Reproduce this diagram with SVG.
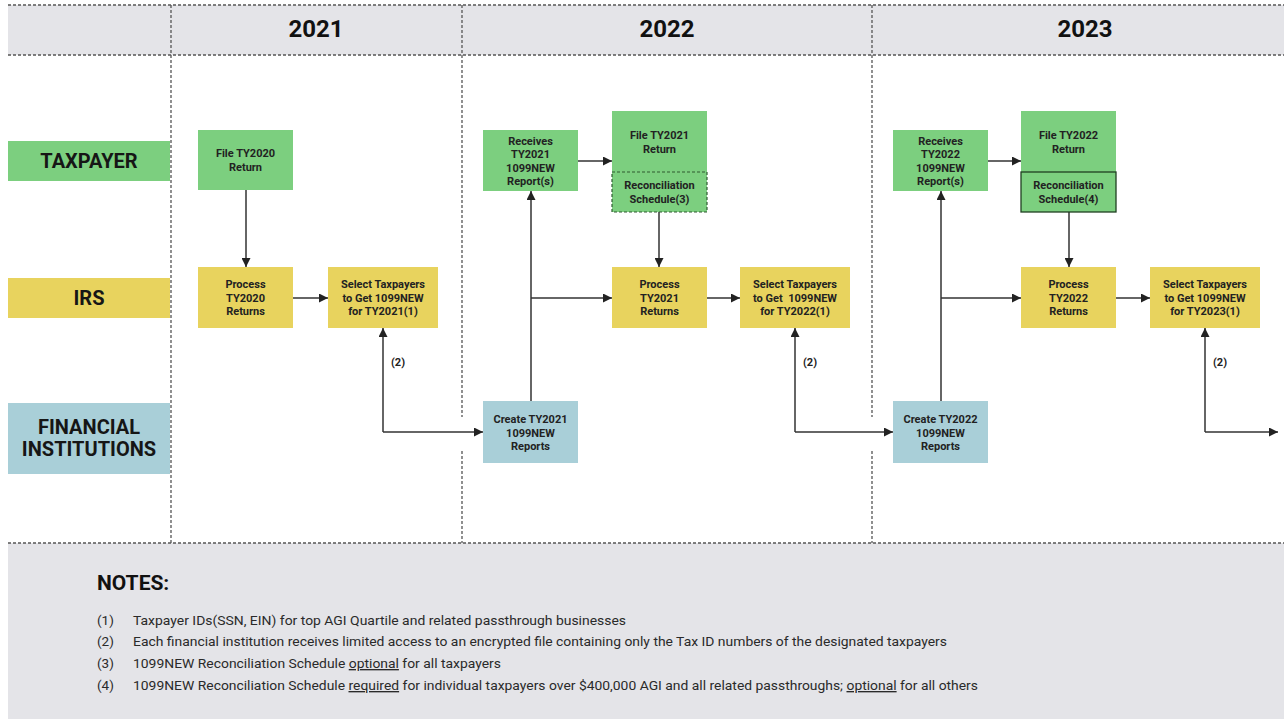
<svg xmlns="http://www.w3.org/2000/svg" width="1284" height="719" viewBox="0 0 1284 719">
<defs>
<style>
.band{fill:#e4e4e8}
.dot{stroke:#555;stroke-width:1.3;stroke-dasharray:3 2;fill:none}
.green{fill:#7ccf7f}
.yellow{fill:#e8d35e}
.blue{fill:#a9cfd8}
.yr{font-family:Roboto,"Liberation Sans",sans-serif;font-weight:700;font-size:24px;fill:#111;text-anchor:middle}
.lane{font-family:Roboto,"Liberation Sans",sans-serif;font-weight:700;font-size:20px;fill:#161616;text-anchor:middle}
.nt{font-family:Roboto,"Liberation Sans",sans-serif;font-weight:700;font-size:11px;fill:#222;text-anchor:middle}
.conn{stroke:#333;stroke-width:1.5;fill:none;marker-end:url(#ah)}
.lbl{font-family:Roboto,"Liberation Sans",sans-serif;font-weight:700;font-size:11px;fill:#222;text-anchor:middle}
.notesh{font-family:Roboto,"Liberation Sans",sans-serif;font-weight:700;font-size:21px;fill:#111}
.note{font-family:Roboto,"Liberation Sans",sans-serif;font-size:13.5px;fill:#2a2a2a}
.recon3{fill:#7ccf7f;stroke:#2e5a30;stroke-width:1.2;stroke-dasharray:3 2}
.recon4{fill:#7ccf7f;stroke:#1f3f21;stroke-width:1.3}
</style>
<marker id="ah" viewBox="0 0 10 10" refX="10" refY="5" markerWidth="9" markerHeight="9" markerUnits="userSpaceOnUse" orient="auto">
<path d="M0,0 L10,5 L0,10 z" fill="#222"/>
</marker>
</defs>
<rect width="1284" height="719" fill="#ffffff"/>

<g id="header">
<rect class="band" x="8" y="5" width="1276" height="50"/>
<line class="dot" x1="8" y1="5" x2="1284" y2="5"/>
<line class="dot" x1="8" y1="55" x2="1284" y2="55"/>
<text class="yr" x="316" y="37">2021</text>
<text class="yr" x="667" y="37">2022</text>
<text class="yr" x="1085" y="37">2023</text>
</g>

<g id="notes-area">
<rect class="band" x="8" y="543" width="1276" height="176"/>
<line class="dot" x1="8" y1="543" x2="1284" y2="543"/>
</g>

<g id="dividers">
<line class="dot" x1="171" y1="5" x2="171" y2="543"/>
<line class="dot" x1="462" y1="5" x2="462" y2="417"/>
<line class="dot" x1="462" y1="451" x2="462" y2="543"/>
<line class="dot" x1="872" y1="5" x2="872" y2="417"/>
<line class="dot" x1="872" y1="451" x2="872" y2="543"/>
</g>

<g id="lane-taxpayer">
<rect class="green" x="8" y="141" width="162" height="40"/>
<text class="lane" x="89" y="168">TAXPAYER</text>
</g>
<g id="lane-irs">
<rect class="yellow" x="8" y="278" width="162" height="40"/>
<text class="lane" x="89" y="305">IRS</text>
</g>
<g id="lane-fi">
<rect class="blue" x="8" y="403" width="162" height="71"/>
<text class="lane" x="89" y="434">FINANCIAL</text>
<text class="lane" x="89" y="456">INSTITUTIONS</text>
</g>

<g id="connectors">
<path class="conn" d="M246,190 V267"/>
<path class="conn" d="M293,298 H328"/>
<path class="conn" d="M383,432 V328"/>
<path class="conn" d="M383,432 H483"/>

<path class="conn" d="M578,161 H612"/>
<path class="conn" d="M659,212 V267"/>
<path class="conn" d="M531,401 V191"/>
<path class="conn" d="M531,298 H612"/>
<path class="conn" d="M707,298 H740"/>
<path class="conn" d="M795,432 V328"/>
<path class="conn" d="M795,432 H893"/>

<path class="conn" d="M988,161 H1021"/>
<path class="conn" d="M1069,212 V267"/>
<path class="conn" d="M941,401 V191"/>
<path class="conn" d="M941,298 H1021"/>
<path class="conn" d="M1116,298 H1150"/>
<path class="conn" d="M1205,432 V328"/>
<path class="conn" d="M1205,432 H1278"/>

<text class="lbl" x="398" y="366">(2)</text>
<text class="lbl" x="810" y="366">(2)</text>
<text class="lbl" x="1220" y="366">(2)</text>
</g>

<g id="file-ty2020">
<rect class="green" x="198" y="130" width="95" height="60"/>
<text class="nt" x="245.5" y="157">File TY2020</text>
<text class="nt" x="245.5" y="171">Return</text>
</g>
<g id="process-ty2020">
<rect class="yellow" x="198" y="267" width="95" height="61"/>
<text class="nt" x="245.5" y="288">Process</text>
<text class="nt" x="245.5" y="301.5">TY2020</text>
<text class="nt" x="245.5" y="315">Returns</text>
</g>
<g id="select-ty2021">
<rect class="yellow" x="328" y="267" width="110" height="61"/>
<text class="nt" x="383" y="288">Select Taxpayers</text>
<text class="nt" x="383" y="301.5">to Get 1099NEW</text>
<text class="nt" x="383" y="315">for TY2021(1)</text>
</g>

<g id="receives-ty2021">
<rect class="green" x="483" y="130" width="95" height="61"/>
<text class="nt" x="530.5" y="145">Receives</text>
<text class="nt" x="530.5" y="158">TY2021</text>
<text class="nt" x="530.5" y="171.5">1099NEW</text>
<text class="nt" x="530.5" y="185">Report(s)</text>
</g>
<g id="file-ty2021">
<rect class="green" x="612" y="111" width="95" height="101"/>
<text class="nt" x="659.5" y="139">File TY2021</text>
<text class="nt" x="659.5" y="152.5">Return</text>
<rect class="recon3" x="612" y="172" width="95" height="40"/>
<text class="nt" x="659.5" y="189">Reconciliation</text>
<text class="nt" x="659.5" y="202.5">Schedule(3)</text>
</g>
<g id="process-ty2021">
<rect class="yellow" x="612" y="267" width="95" height="61"/>
<text class="nt" x="659.5" y="288">Process</text>
<text class="nt" x="659.5" y="301.5">TY2021</text>
<text class="nt" x="659.5" y="315">Returns</text>
</g>
<g id="select-ty2022">
<rect class="yellow" x="740" y="267" width="110" height="61"/>
<text class="nt" x="795" y="288">Select Taxpayers</text>
<text class="nt" x="795" y="301.5" xml:space="preserve">to Get  1099NEW</text>
<text class="nt" x="795" y="315">for TY2022(1)</text>
</g>
<g id="create-ty2021">
<rect class="blue" x="483" y="401" width="95" height="62"/>
<text class="nt" x="530.5" y="423">Create TY2021</text>
<text class="nt" x="530.5" y="436.5">1099NEW</text>
<text class="nt" x="530.5" y="450">Reports</text>
</g>

<g id="receives-ty2022">
<rect class="green" x="893" y="130" width="95" height="61"/>
<text class="nt" x="940.5" y="145">Receives</text>
<text class="nt" x="940.5" y="158">TY2022</text>
<text class="nt" x="940.5" y="171.5">1099NEW</text>
<text class="nt" x="940.5" y="185">Report(s)</text>
</g>
<g id="file-ty2022">
<rect class="green" x="1021" y="111" width="95" height="101"/>
<text class="nt" x="1068.5" y="139">File TY2022</text>
<text class="nt" x="1068.5" y="152.5">Return</text>
<rect class="recon4" x="1021" y="172" width="95" height="40"/>
<text class="nt" x="1068.5" y="189">Reconciliation</text>
<text class="nt" x="1068.5" y="202.5">Schedule(4)</text>
</g>
<g id="process-ty2022">
<rect class="yellow" x="1021" y="267" width="95" height="61"/>
<text class="nt" x="1068.5" y="288">Process</text>
<text class="nt" x="1068.5" y="301.5">TY2022</text>
<text class="nt" x="1068.5" y="315">Returns</text>
</g>
<g id="select-ty2023">
<rect class="yellow" x="1150" y="267" width="110" height="61"/>
<text class="nt" x="1205" y="288">Select Taxpayers</text>
<text class="nt" x="1205" y="301.5">to Get 1099NEW</text>
<text class="nt" x="1205" y="315">for TY2023(1)</text>
</g>
<g id="create-ty2022">
<rect class="blue" x="893" y="401" width="95" height="62"/>
<text class="nt" x="940.5" y="423">Create TY2022</text>
<text class="nt" x="940.5" y="436.5">1099NEW</text>
<text class="nt" x="940.5" y="450">Reports</text>
</g>

<g id="notes">
<text class="notesh" x="97" y="590">NOTES:</text>
<text class="note" x="97" y="625">(1)</text>
<text class="note" x="133" y="625" textLength="493" lengthAdjust="spacingAndGlyphs">Taxpayer IDs(SSN, EIN) for top AGI Quartile and related passthrough businesses</text>
<text class="note" x="97" y="646">(2)</text>
<text class="note" x="133" y="646" textLength="814" lengthAdjust="spacingAndGlyphs">Each financial institution receives limited access to an encrypted file containing only the Tax ID numbers of the designated taxpayers</text>
<text class="note" x="97" y="668">(3)</text>
<text class="note" x="133" y="668" textLength="368" lengthAdjust="spacingAndGlyphs">1099NEW Reconciliation Schedule <tspan text-decoration="underline">optional</tspan> for all taxpayers</text>
<text class="note" x="97" y="690">(4)</text>
<text class="note" x="133" y="690" textLength="845" lengthAdjust="spacingAndGlyphs">1099NEW Reconciliation Schedule <tspan text-decoration="underline">required</tspan> for individual taxpayers over $400,000 AGI and all related passthroughs; <tspan text-decoration="underline">optional</tspan> for all others</text>
</g>
</svg>
